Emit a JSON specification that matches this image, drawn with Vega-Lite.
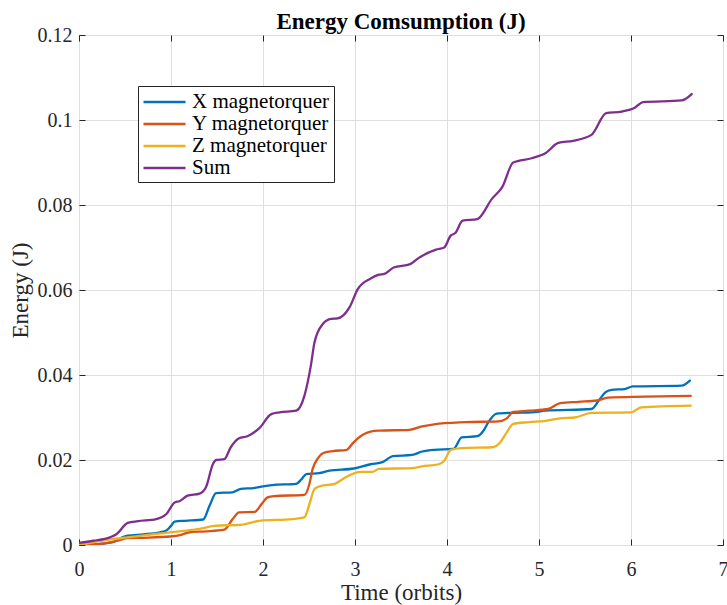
{
  "$schema": "https://vega.github.io/schema/vega-lite/v6.json",
  "width": 644,
  "height": 510,
  "autosize": {"type": "none"},
  "padding": {"left": 79, "top": 35, "right": 4, "bottom": 60},
  "background": "white",
  "title": {"text": "Energy Comsumption (J)", "font": "Liberation Serif", "fontSize": 23, "fontWeight": "bold", "color": "#000000", "offset": -9, "anchor": "middle"},
  "config": {
    "font": "Liberation Serif",
    "view": {"stroke": "#262626", "strokeWidth": 1},
    "axis": {
      "domain": false,
      "tickColor": "#262626",
      "tickSize": -6,
      "tickWidth": 1,
      "gridColor": "#dfdfdf",
      "gridWidth": 1,
      "labelFont": "Liberation Serif",
      "labelFontSize": 20,
      "labelColor": "#262626",
      "labelFlush": false,
      "titleFont": "Liberation Serif",
      "titleFontSize": 23,
      "titleFontWeight": "normal",
      "titleColor": "#262626"
    }
  },
  "data": {"values": [
    {"t": 0, "E": 0, "s": "X magnetorquer"},
    {"t": 0.2, "E": 0.0002, "s": "X magnetorquer"},
    {"t": 0.35, "E": 0.0006, "s": "X magnetorquer"},
    {"t": 0.41, "E": 0.001, "s": "X magnetorquer"},
    {"t": 0.47, "E": 0.0018, "s": "X magnetorquer"},
    {"t": 0.53, "E": 0.0022, "s": "X magnetorquer"},
    {"t": 0.7, "E": 0.0025, "s": "X magnetorquer"},
    {"t": 0.88, "E": 0.003, "s": "X magnetorquer"},
    {"t": 0.95, "E": 0.0034, "s": "X magnetorquer"},
    {"t": 1.0, "E": 0.0045, "s": "X magnetorquer"},
    {"t": 1.04, "E": 0.0055, "s": "X magnetorquer"},
    {"t": 1.15, "E": 0.0057, "s": "X magnetorquer"},
    {"t": 1.35, "E": 0.006, "s": "X magnetorquer"},
    {"t": 1.42, "E": 0.0093, "s": "X magnetorquer"},
    {"t": 1.49, "E": 0.0122, "s": "X magnetorquer"},
    {"t": 1.67, "E": 0.0124, "s": "X magnetorquer"},
    {"t": 1.76, "E": 0.0132, "s": "X magnetorquer"},
    {"t": 1.9, "E": 0.0134, "s": "X magnetorquer"},
    {"t": 2.0, "E": 0.0138, "s": "X magnetorquer"},
    {"t": 2.1, "E": 0.0141, "s": "X magnetorquer"},
    {"t": 2.36, "E": 0.0144, "s": "X magnetorquer"},
    {"t": 2.42, "E": 0.0155, "s": "X magnetorquer"},
    {"t": 2.47, "E": 0.0167, "s": "X magnetorquer"},
    {"t": 2.61, "E": 0.0169, "s": "X magnetorquer"},
    {"t": 2.72, "E": 0.0175, "s": "X magnetorquer"},
    {"t": 2.99, "E": 0.018, "s": "X magnetorquer"},
    {"t": 3.17, "E": 0.019, "s": "X magnetorquer"},
    {"t": 3.3, "E": 0.0195, "s": "X magnetorquer"},
    {"t": 3.35, "E": 0.0202, "s": "X magnetorquer"},
    {"t": 3.41, "E": 0.0209, "s": "X magnetorquer"},
    {"t": 3.62, "E": 0.0212, "s": "X magnetorquer"},
    {"t": 3.73, "E": 0.022, "s": "X magnetorquer"},
    {"t": 3.86, "E": 0.0224, "s": "X magnetorquer"},
    {"t": 4.07, "E": 0.0226, "s": "X magnetorquer"},
    {"t": 4.16, "E": 0.0253, "s": "X magnetorquer"},
    {"t": 4.33, "E": 0.0256, "s": "X magnetorquer"},
    {"t": 4.4, "E": 0.027, "s": "X magnetorquer"},
    {"t": 4.45, "E": 0.0289, "s": "X magnetorquer"},
    {"t": 4.54, "E": 0.0309, "s": "X magnetorquer"},
    {"t": 4.71, "E": 0.0311, "s": "X magnetorquer"},
    {"t": 4.92, "E": 0.0312, "s": "X magnetorquer"},
    {"t": 5.07, "E": 0.0316, "s": "X magnetorquer"},
    {"t": 5.57, "E": 0.032, "s": "X magnetorquer"},
    {"t": 5.65, "E": 0.034, "s": "X magnetorquer"},
    {"t": 5.72, "E": 0.0359, "s": "X magnetorquer"},
    {"t": 5.79, "E": 0.0365, "s": "X magnetorquer"},
    {"t": 5.93, "E": 0.0367, "s": "X magnetorquer"},
    {"t": 6.02, "E": 0.0373, "s": "X magnetorquer"},
    {"t": 6.55, "E": 0.0375, "s": "X magnetorquer"},
    {"t": 6.64, "E": 0.0387, "s": "X magnetorquer"},

    {"t": 0, "E": 0, "s": "Y magnetorquer"},
    {"t": 0.2, "E": 0.0002, "s": "Y magnetorquer"},
    {"t": 0.34, "E": 0.0006, "s": "Y magnetorquer"},
    {"t": 0.45, "E": 0.0012, "s": "Y magnetorquer"},
    {"t": 0.53, "E": 0.0016, "s": "Y magnetorquer"},
    {"t": 0.7, "E": 0.0017, "s": "Y magnetorquer"},
    {"t": 0.99, "E": 0.002, "s": "Y magnetorquer"},
    {"t": 1.11, "E": 0.0024, "s": "Y magnetorquer"},
    {"t": 1.2, "E": 0.003, "s": "Y magnetorquer"},
    {"t": 1.38, "E": 0.0032, "s": "Y magnetorquer"},
    {"t": 1.58, "E": 0.0036, "s": "Y magnetorquer"},
    {"t": 1.67, "E": 0.0061, "s": "Y magnetorquer"},
    {"t": 1.74, "E": 0.0077, "s": "Y magnetorquer"},
    {"t": 1.91, "E": 0.0078, "s": "Y magnetorquer"},
    {"t": 1.98, "E": 0.0095, "s": "Y magnetorquer"},
    {"t": 2.05, "E": 0.0112, "s": "Y magnetorquer"},
    {"t": 2.12, "E": 0.0115, "s": "Y magnetorquer"},
    {"t": 2.45, "E": 0.0118, "s": "Y magnetorquer"},
    {"t": 2.5, "E": 0.014, "s": "Y magnetorquer"},
    {"t": 2.54, "E": 0.0179, "s": "Y magnetorquer"},
    {"t": 2.6, "E": 0.0205, "s": "Y magnetorquer"},
    {"t": 2.65, "E": 0.0216, "s": "Y magnetorquer"},
    {"t": 2.76, "E": 0.0221, "s": "Y magnetorquer"},
    {"t": 2.91, "E": 0.0224, "s": "Y magnetorquer"},
    {"t": 2.97, "E": 0.0238, "s": "Y magnetorquer"},
    {"t": 3.03, "E": 0.0251, "s": "Y magnetorquer"},
    {"t": 3.17, "E": 0.0267, "s": "Y magnetorquer"},
    {"t": 3.26, "E": 0.0269, "s": "Y magnetorquer"},
    {"t": 3.59, "E": 0.0271, "s": "Y magnetorquer"},
    {"t": 3.73, "E": 0.0279, "s": "Y magnetorquer"},
    {"t": 3.86, "E": 0.0284, "s": "Y magnetorquer"},
    {"t": 4.2, "E": 0.0289, "s": "Y magnetorquer"},
    {"t": 4.56, "E": 0.0291, "s": "Y magnetorquer"},
    {"t": 4.65, "E": 0.0298, "s": "Y magnetorquer"},
    {"t": 4.72, "E": 0.0313, "s": "Y magnetorquer"},
    {"t": 4.89, "E": 0.0316, "s": "Y magnetorquer"},
    {"t": 5.1, "E": 0.032, "s": "Y magnetorquer"},
    {"t": 5.23, "E": 0.0334, "s": "Y magnetorquer"},
    {"t": 5.43, "E": 0.0337, "s": "Y magnetorquer"},
    {"t": 5.63, "E": 0.034, "s": "Y magnetorquer"},
    {"t": 5.75, "E": 0.0347, "s": "Y magnetorquer"},
    {"t": 6.15, "E": 0.0349, "s": "Y magnetorquer"},
    {"t": 6.65, "E": 0.0351, "s": "Y magnetorquer"},

    {"t": 0, "E": 0, "s": "Z magnetorquer"},
    {"t": 0.34, "E": 0.0013, "s": "Z magnetorquer"},
    {"t": 0.53, "E": 0.0018, "s": "Z magnetorquer"},
    {"t": 0.84, "E": 0.0026, "s": "Z magnetorquer"},
    {"t": 1.04, "E": 0.0031, "s": "Z magnetorquer"},
    {"t": 1.17, "E": 0.0034, "s": "Z magnetorquer"},
    {"t": 1.31, "E": 0.0038, "s": "Z magnetorquer"},
    {"t": 1.47, "E": 0.0045, "s": "Z magnetorquer"},
    {"t": 1.78, "E": 0.0048, "s": "Z magnetorquer"},
    {"t": 1.96, "E": 0.0057, "s": "Z magnetorquer"},
    {"t": 2.32, "E": 0.0061, "s": "Z magnetorquer"},
    {"t": 2.45, "E": 0.0065, "s": "Z magnetorquer"},
    {"t": 2.51, "E": 0.01, "s": "Z magnetorquer"},
    {"t": 2.56, "E": 0.0132, "s": "Z magnetorquer"},
    {"t": 2.65, "E": 0.014, "s": "Z magnetorquer"},
    {"t": 2.77, "E": 0.0143, "s": "Z magnetorquer"},
    {"t": 2.88, "E": 0.0157, "s": "Z magnetorquer"},
    {"t": 2.97, "E": 0.0167, "s": "Z magnetorquer"},
    {"t": 3.06, "E": 0.0172, "s": "Z magnetorquer"},
    {"t": 3.19, "E": 0.0172, "s": "Z magnetorquer"},
    {"t": 3.26, "E": 0.0179, "s": "Z magnetorquer"},
    {"t": 3.62, "E": 0.0181, "s": "Z magnetorquer"},
    {"t": 3.73, "E": 0.0185, "s": "Z magnetorquer"},
    {"t": 3.91, "E": 0.019, "s": "Z magnetorquer"},
    {"t": 3.97, "E": 0.0198, "s": "Z magnetorquer"},
    {"t": 4.04, "E": 0.0224, "s": "Z magnetorquer"},
    {"t": 4.16, "E": 0.0228, "s": "Z magnetorquer"},
    {"t": 4.49, "E": 0.023, "s": "Z magnetorquer"},
    {"t": 4.58, "E": 0.0242, "s": "Z magnetorquer"},
    {"t": 4.65, "E": 0.0265, "s": "Z magnetorquer"},
    {"t": 4.72, "E": 0.0285, "s": "Z magnetorquer"},
    {"t": 4.89, "E": 0.0289, "s": "Z magnetorquer"},
    {"t": 5.07, "E": 0.0292, "s": "Z magnetorquer"},
    {"t": 5.23, "E": 0.0298, "s": "Z magnetorquer"},
    {"t": 5.39, "E": 0.03, "s": "Z magnetorquer"},
    {"t": 5.57, "E": 0.0311, "s": "Z magnetorquer"},
    {"t": 6.0, "E": 0.0312, "s": "Z magnetorquer"},
    {"t": 6.11, "E": 0.0324, "s": "Z magnetorquer"},
    {"t": 6.65, "E": 0.0328, "s": "Z magnetorquer"},

    {"t": 0, "E": 0.0005, "s": "Sum"},
    {"t": 0.155, "E": 0.001, "s": "Sum"},
    {"t": 0.336, "E": 0.0018, "s": "Sum"},
    {"t": 0.41, "E": 0.0026, "s": "Sum"},
    {"t": 0.53, "E": 0.0052, "s": "Sum"},
    {"t": 0.64, "E": 0.0056, "s": "Sum"},
    {"t": 0.84, "E": 0.0061, "s": "Sum"},
    {"t": 0.95, "E": 0.0073, "s": "Sum"},
    {"t": 1.04, "E": 0.01, "s": "Sum"},
    {"t": 1.09, "E": 0.0103, "s": "Sum"},
    {"t": 1.18, "E": 0.0116, "s": "Sum"},
    {"t": 1.31, "E": 0.0121, "s": "Sum"},
    {"t": 1.38, "E": 0.0136, "s": "Sum"},
    {"t": 1.455, "E": 0.019, "s": "Sum"},
    {"t": 1.49, "E": 0.02, "s": "Sum"},
    {"t": 1.58, "E": 0.0202, "s": "Sum"},
    {"t": 1.65, "E": 0.023, "s": "Sum"},
    {"t": 1.74, "E": 0.0251, "s": "Sum"},
    {"t": 1.83, "E": 0.0256, "s": "Sum"},
    {"t": 1.96, "E": 0.0275, "s": "Sum"},
    {"t": 2.09, "E": 0.0308, "s": "Sum"},
    {"t": 2.18, "E": 0.0312, "s": "Sum"},
    {"t": 2.36, "E": 0.0316, "s": "Sum"},
    {"t": 2.45, "E": 0.0351, "s": "Sum"},
    {"t": 2.52, "E": 0.0422, "s": "Sum"},
    {"t": 2.56, "E": 0.0477, "s": "Sum"},
    {"t": 2.65, "E": 0.052, "s": "Sum"},
    {"t": 2.74, "E": 0.0532, "s": "Sum"},
    {"t": 2.81, "E": 0.0533, "s": "Sum"},
    {"t": 2.94, "E": 0.0559, "s": "Sum"},
    {"t": 3.03, "E": 0.0602, "s": "Sum"},
    {"t": 3.17, "E": 0.0627, "s": "Sum"},
    {"t": 3.26, "E": 0.0636, "s": "Sum"},
    {"t": 3.32, "E": 0.0638, "s": "Sum"},
    {"t": 3.42, "E": 0.0653, "s": "Sum"},
    {"t": 3.6, "E": 0.0661, "s": "Sum"},
    {"t": 3.69, "E": 0.0675, "s": "Sum"},
    {"t": 3.88, "E": 0.0695, "s": "Sum"},
    {"t": 3.97, "E": 0.07, "s": "Sum"},
    {"t": 4.04, "E": 0.0728, "s": "Sum"},
    {"t": 4.09, "E": 0.0734, "s": "Sum"},
    {"t": 4.17, "E": 0.0763, "s": "Sum"},
    {"t": 4.33, "E": 0.0767, "s": "Sum"},
    {"t": 4.49, "E": 0.0815, "s": "Sum"},
    {"t": 4.6, "E": 0.0842, "s": "Sum"},
    {"t": 4.72, "E": 0.09, "s": "Sum"},
    {"t": 4.92, "E": 0.091, "s": "Sum"},
    {"t": 5.07, "E": 0.0922, "s": "Sum"},
    {"t": 5.21, "E": 0.0946, "s": "Sum"},
    {"t": 5.37, "E": 0.0951, "s": "Sum"},
    {"t": 5.57, "E": 0.0965, "s": "Sum"},
    {"t": 5.73, "E": 0.1016, "s": "Sum"},
    {"t": 5.9, "E": 0.102, "s": "Sum"},
    {"t": 6.04, "E": 0.1029, "s": "Sum"},
    {"t": 6.13, "E": 0.1042, "s": "Sum"},
    {"t": 6.55, "E": 0.1046, "s": "Sum"},
    {"t": 6.66, "E": 0.1061, "s": "Sum"}
  ]},
  "layer": [
    {
      "mark": {"type": "line", "strokeWidth": 2.3, "interpolate": "monotone", "strokeCap": "round", "strokeJoin": "round", "clip": true},
      "encoding": {
        "x": {"field": "t", "type": "quantitative", "scale": {"domain": [0, 7], "nice": false, "zero": false},
          "axis": {"orient": "bottom", "title": "Time (orbits)", "values": [0, 1, 2, 3, 4, 5, 6, 7], "grid": true, "labelPadding": 20, "titlePadding": 2}},
        "y": {"field": "E", "type": "quantitative", "scale": {"domain": [0, 0.12], "nice": false, "zero": false},
          "axis": {"orient": "left", "title": "Energy (J)", "values": [0, 0.02, 0.04, 0.06, 0.08, 0.1, 0.12], "grid": true, "labelExpr": "format(datum.value, '~g')", "labelPadding": 13, "titlePadding": 5}},
        "color": {"field": "s", "type": "nominal",
          "scale": {"domain": ["X magnetorquer", "Y magnetorquer", "Z magnetorquer", "Sum"], "range": ["#0072BD", "#D95319", "#EDB120", "#7E2F8E"]},
          "legend": {"title": null, "orient": "none", "legendX": 59, "legendY": 51, "direction": "vertical",
            "symbolType": "M-1,0H3", "symbolSize": 441, "symbolStrokeWidth": 2.3, "labelOffset": 26,
            "labelFont": "Liberation Serif", "labelFontSize": 21, "labelColor": "#000000",
            "strokeColor": "#262626", "fillColor": "white", "padding": 4, "rowPadding": -3}}
      }
    },
    {
      "mark": {"type": "line", "strokeOpacity": 0},
      "encoding": {
        "x": {"field": "t", "type": "quantitative",
          "axis": {"orient": "top", "title": null, "labels": false, "grid": false, "values": [0, 1, 2, 3, 4, 5, 6, 7]}},
        "y": {"field": "E", "type": "quantitative",
          "axis": {"orient": "right", "title": null, "labels": false, "grid": false, "values": [0, 0.02, 0.04, 0.06, 0.08, 0.1, 0.12]}},
        "detail": {"field": "s", "type": "nominal"}
      }
    }
  ]
}
